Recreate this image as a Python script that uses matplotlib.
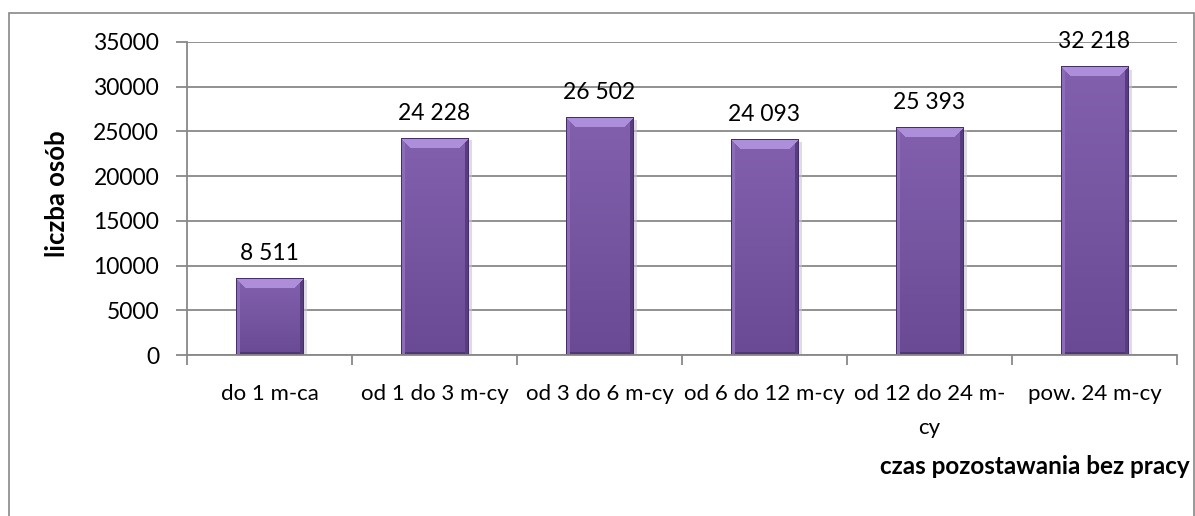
import numpy as np
import matplotlib
matplotlib.use("Agg")
import matplotlib.pyplot as plt
from matplotlib.patches import Rectangle

# Data
categories = ["do 1 m-ca", "od 1 do 3 m-cy", "od 3 do 6 m-cy", "od 6 do 12 m-cy",
              "od 12 do 24 m-\ncy", "pow. 24 m-cy"]
values = [8511, 24228, 26502, 24093, 25393, 32218]
value_labels = ["8 511", "24 228", "26 502", "24 093", "25 393", "32 218"]
yticks = [0, 5000, 10000, 15000, 20000, 25000, 30000, 35000]

plt.rcParams["font.family"] = ["Lato", "DejaVu Sans"]

W, H = 1195, 516
fig = plt.figure(figsize=(W / 100, H / 100), dpi=100)
fig.patch.set_facecolor("white")

# outer chart frame
fig.patches.append(Rectangle((9 / W, -0.1), (1194 - 9) / W, 1.1 - 13 / H,
                             transform=fig.transFigure, fill=False,
                             edgecolor="#888888", linewidth=1.2))

ax = fig.add_axes([187 / W, 1 - 355 / H, (1177 - 187) / W, (355 - 42) / H])
ax.set_xlim(-0.5, len(values) - 0.5)
ax.set_ylim(0, 35000)

grid_col = "#888888"
for s in ["top", "right"]:
    ax.spines[s].set_visible(False)
for s in ["left", "bottom"]:
    ax.spines[s].set_color(grid_col)
    ax.spines[s].set_linewidth(1.3)

ax.set_yticks(yticks)
ax.set_yticklabels([str(t) for t in yticks], fontsize=16.5)
ax.yaxis.grid(True, color=grid_col, linewidth=1.3)
ax.set_axisbelow(True)
ax.tick_params(axis="y", length=8, width=1.3, color=grid_col, pad=12)

x = np.arange(len(values))
ax.set_xticks(x)
ax.set_xticklabels(categories, fontsize=16, linespacing=1.85)
ax.tick_params(axis="x", which="major", length=0, pad=21)
ax.set_xticks(np.arange(len(values) + 1) - 0.5, minor=True)
ax.tick_params(axis="x", which="minor", length=7, width=1.3, color=grid_col)

bar_w = 0.41
bars = ax.bar(x, values, width=bar_w, color="none", edgecolor="none", zorder=2)

fig.canvas.draw()
to_px = ax.transData

face_top = np.array([130, 96, 174]) / 255
face_bot = np.array([106, 74, 148]) / 255
bevel_top = np.array([172, 142, 218]) / 255
bevel_left = np.array([140, 108, 185]) / 255
bevel_right = np.array([88, 60, 128]) / 255
bevel_bot = np.array([80, 54, 118]) / 255
edge = np.array([70, 46, 104]) / 255

for rect, v in zip(bars, values):
    x0 = rect.get_x()
    x1 = x0 + rect.get_width()
    (px0, py0), (px1, py1) = to_px.transform([(x0, 0), (x1, v)])
    wpx = int(round(px1 - px0))
    hpx = int(round(py1 - py0))
    img = np.zeros((hpx, wpx, 3))
    rows = np.linspace(0, 1, hpx)[:, None]
    img[:] = face_top * (1 - rows[..., None]) + face_bot * rows[..., None]
    b = 10
    jj, ii = np.meshgrid(np.arange(wpx), np.arange(hpx))
    top = (ii < b) & (jj >= ii) & (jj < wpx - ii)
    left = (jj < 4) & ~top
    right = (jj >= wpx - 4) & ~top
    bot = (ii >= hpx - 3) & ~left & ~right
    img[top] = bevel_top
    img[left] = bevel_left
    img[right] = bevel_right
    img[bot] = bevel_bot
    img[0, :] = edge
    img[:, 0] = edge
    img[:, -1] = edge
    img[-1, :] = edge
    # soft shadow on the right side
    ax.add_patch(Rectangle((x1, 0), rect.get_width() * 0.05, v * 0.99,
                           facecolor="#c9c3d2", edgecolor="none", alpha=0.6,
                           zorder=1.5))
    ax.imshow(img, extent=(x0, x1, 0, v), aspect="auto", zorder=2,
              interpolation="nearest")

ax.set_xlim(-0.5, len(values) - 0.5)
ax.set_ylim(0, 35000)

for xi, v, lab in zip(x, values, value_labels):
    ax.annotate(lab, (xi, v), xytext=(0, 18), textcoords="offset points",
                ha="center", va="center", fontsize=16.5, clip_on=False, zorder=3)

fig.text(57 / W, 1 - 194 / H, "liczba osób", rotation=90, ha="center",
         va="center", fontsize=18.5, fontweight="bold")
fig.text(1190 / W, 1 - 467 / H, "czas pozostawania bez pracy", ha="right",
         va="center", fontsize=17.5, fontweight="bold")

fig.savefig("out.png", dpi=100)
